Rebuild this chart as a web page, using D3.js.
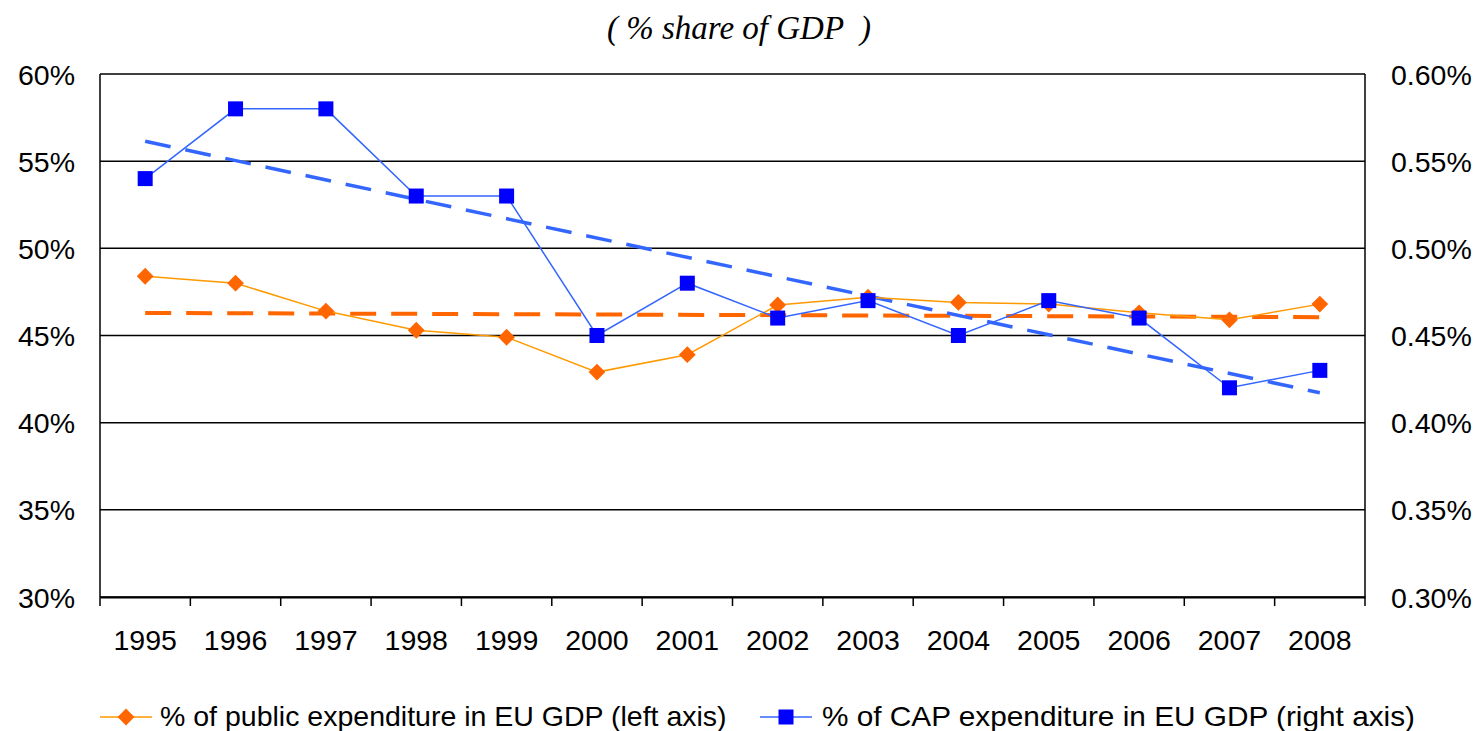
<!DOCTYPE html>
<head>
<meta charset="utf-8">
</head>
<style>
body { margin: 0; background: #fff; }
text { font-family: "Liberation Sans", Arial, sans-serif; }
.title { font-family: "Liberation Serif", "Times New Roman", serif; font-style: italic; }
</style>
<body>
<svg id="chart" width="1477" height="731"></svg>
<script src="https://cdn.jsdelivr.net/npm/d3@7/dist/d3.min.js"></script>
<script>

var years = ["1995","1996","1997","1998","1999","2000","2001","2002","2003","2004","2005","2006","2007","2008"];
var publicExp = [48.4, 48.0, 46.4, 45.3, 44.9, 42.9, 43.9, 46.75, 47.2, 46.9, 46.8, 46.3, 45.9, 46.8]; // left axis, %
var capExp = [0.54, 0.58, 0.58, 0.53, 0.53, 0.45, 0.48, 0.46, 0.47, 0.45, 0.47, 0.46, 0.42, 0.43];    // right axis, %
var leftTicks = [30, 35, 40, 45, 50, 55, 60];
var rightTicks = [0.30, 0.35, 0.40, 0.45, 0.50, 0.55, 0.60];
var legendLabels = ["% of public expenditure in EU GDP (left axis)", "% of CAP expenditure in EU GDP (right axis)"];

var svg = d3.select("#chart"),
    margin = {top: 74, right: 112, bottom: 134, left: 100},
    width = +svg.attr("width") - margin.left - margin.right,
    height = +svg.attr("height") - margin.top - margin.bottom;

var fs = "28.5px";

var x = d3.scaleBand().domain(years).range([0, width]),
    yL = d3.scaleLinear().domain([30, 60]).range([height, 0]),
    yR = d3.scaleLinear().domain([0.30, 0.60]).range([height, 0]);

var g = svg.append("g")
    .attr("transform", "translate(" + margin.left + "," + margin.top + ")");

// title
svg.append("text")
    .attr("class", "title")
    .attr("x", 739)
    .attr("y", 39)
    .attr("text-anchor", "middle")
    .style("font-size", "33px")
    .style("white-space", "pre")
    .text("( % share of GDP  )");

// gridlines
g.selectAll(".grid")
  .data(leftTicks)
  .enter().append("line")
    .attr("x1", 0).attr("x2", width)
    .attr("y1", function(d) { return yL(d); })
    .attr("y2", function(d) { return yL(d); })
    .attr("stroke", "#000")
    .attr("stroke-width", 1.5);

// left and right borders
g.append("line").attr("x1", 0).attr("x2", 0).attr("y1", 0).attr("y2", height)
    .attr("stroke", "#000").attr("stroke-width", 1.5);
g.append("line").attr("x1", width).attr("x2", width).attr("y1", 0).attr("y2", height)
    .attr("stroke", "#000").attr("stroke-width", 1.5);

// left labels
g.selectAll(".ltick")
  .data(leftTicks)
  .enter().append("text")
    .attr("x", -25)
    .attr("y", function(d) { return yL(d); })
    .attr("dy", "0.37em")
    .attr("text-anchor", "end")
    .style("font-size", fs)
    .text(function(d) { return d + "%"; });

// right labels
g.selectAll(".rtick")
  .data(rightTicks)
  .enter().append("text")
    .attr("x", width + 26)
    .attr("y", function(d) { return yR(d); })
    .attr("dy", "0.37em")
    .style("font-size", fs)
    .text(function(d) { return d.toFixed(2) + "%"; });

// x axis
var xAxis = g.append("g")
    .attr("transform", "translate(0," + height + ")")
    .call(d3.axisBottom(x).tickSize(0).tickPadding(32));
xAxis.select(".domain").attr("stroke", "#000").attr("stroke-width", 2);
xAxis.selectAll("text").style("font-size", fs).attr("font-family", null).attr("fill", "#000")
    .attr("dy", null).attr("y", 53);
var bounds = years.map(function(d) { return x(d); }).concat([width]);
xAxis.selectAll(".btick")
  .data(bounds)
  .enter().append("line")
    .attr("x1", function(d) { return d; })
    .attr("x2", function(d) { return d; })
    .attr("y1", 0).attr("y2", 9)
    .attr("stroke", "#000").attr("stroke-width", 1.5);

var cx = function(i) { return x(years[i]) + x.bandwidth() / 2; };

// linear trend from the series
function trend(vals) {
  var n = vals.length, mx = (n - 1) / 2, my = d3.mean(vals), sxy = 0, sxx = 0;
  vals.forEach(function(v, i) { sxy += (i - mx) * (v - my); sxx += (i - mx) * (i - mx); });
  var b = sxy / sxx;
  return [my - b * mx, my + b * (n - 1 - mx)];
}

var tO = trend(publicExp), tB = trend(capExp);

g.append("line")
    .attr("x1", cx(0)).attr("x2", cx(years.length - 1))
    .attr("y1", yL(tO[0])).attr("y2", yL(tO[1]))
    .attr("stroke", "#FF6600").attr("stroke-width", 4)
    .attr("stroke-dasharray", "26,15");

g.append("line")
    .attr("x1", cx(0)).attr("x2", cx(years.length - 1))
    .attr("y1", yR(tB[0])).attr("y2", yR(tB[1]))
    .attr("stroke", "#3366FF").attr("stroke-width", 3.5)
    .attr("stroke-dasharray", "26,15");

// orange series
g.append("path")
    .datum(publicExp)
    .attr("fill", "none")
    .attr("stroke", "#FF9900")
    .attr("stroke-width", 1.5)
    .attr("d", d3.line().x(function(d, i) { return cx(i); }).y(function(d) { return yL(d); }));

g.selectAll(".dia")
  .data(publicExp)
  .enter().append("path")
    .attr("d", d3.symbol().type(d3.symbolDiamond2).size(180))
    .attr("transform", function(d, i) { return "translate(" + cx(i) + "," + yL(d) + ")"; })
    .attr("fill", "#FF6600");

// blue series
g.append("path")
    .datum(capExp)
    .attr("fill", "none")
    .attr("stroke", "#3366FF")
    .attr("stroke-width", 1.5)
    .attr("d", d3.line().x(function(d, i) { return cx(i); }).y(function(d) { return yR(d); }));

g.selectAll(".sq")
  .data(capExp)
  .enter().append("rect")
    .attr("x", function(d, i) { return cx(i) - 7.5; })
    .attr("y", function(d) { return yR(d) - 7.5; })
    .attr("width", 15).attr("height", 15)
    .attr("fill", "#0000FF");

// legend
var leg = svg.append("g").attr("transform", "translate(0,717)");
leg.append("line").attr("x1", 100).attr("x2", 152).attr("y1", 0).attr("y2", 0)
    .attr("stroke", "#FF9900").attr("stroke-width", 1.5);
leg.append("path").attr("d", d3.symbol().type(d3.symbolDiamond2).size(180))
    .attr("transform", "translate(126,0)").attr("fill", "#FF6600");
leg.append("text").attr("x", 160).attr("y", 9).style("font-size", fs).text(legendLabels[0]);

leg.append("line").attr("x1", 760).attr("x2", 812).attr("y1", 0).attr("y2", 0)
    .attr("stroke", "#3366FF").attr("stroke-width", 1.5);
leg.append("rect").attr("x", 778.5).attr("y", -7.5).attr("width", 15).attr("height", 15).attr("fill", "#0000FF");
leg.append("text").attr("x", 822).attr("y", 9).style("font-size", fs)
    .attr("textLength", 593).attr("lengthAdjust", "spacingAndGlyphs").text(legendLabels[1]);

</script>
</body>
